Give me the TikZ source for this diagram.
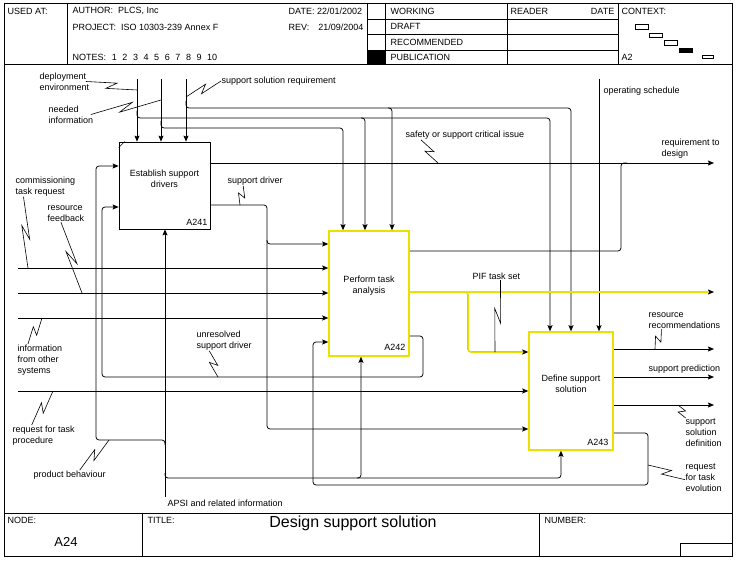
\documentclass[tikz,border=0pt]{standalone}
\usepackage{fontspec}
\setmainfont{Liberation Sans}
\usepackage{tikz}
\usetikzlibrary{arrows.meta,calc}

\definecolor{boxyellow}{RGB}{235,225,0}

% callout squiggle from a label to a line
\newcommand{\zigzag}[2]{\draw[callout] (#1) -- ($(#1)!0.6!(#2)!3.5pt!90:(#2)$) -- ($(#1)!0.4!(#2)!3.5pt!-90:(#2)$) -- (#2);}
\newcommand{\ns}{\hspace{5.6pt}}

\begin{document}
\begin{tikzpicture}[x=1pt,y=-1pt,>={Stealth[length=6pt,width=5pt,inset=1pt]},
  txt/.style={font=\fontsize{9}{11}\selectfont, inner sep=0.5pt, align=left},
  idef box/.style={draw, line width=0.75pt, inner sep=0pt},
  yellow box/.style={idef box, draw=boxyellow, line width=1.5pt},
  flow/.style={->, line width=0.75pt, rounded corners=3pt},
  line/.style={flow, -},
  pif/.style={draw=boxyellow, line width=1.5pt, rounded corners=3pt, shorten >=5pt},
  callout/.style={line width=0.6pt},
  frame/.style={line width=0.9pt}]

  \useasboundingbox (0,0) rectangle (742,567);

  % frame and header
  \draw[frame] (4,3) rectangle (732,556);
  \draw[frame] (4,64) -- (732,64);
  \draw[frame] (4,513) -- (732,513);
  \draw (67,3) -- (67,64);
  \draw (367,3) -- (367,64);
  \draw (385,3) -- (385,64);
  \draw (507,3) -- (507,64);
  \draw (618,3) -- (618,64);
  \foreach \y in {19,34,50} \draw (367,\y) -- (618,\y);
  \fill (367,50) rectangle (385,64);
  \draw (142,513) -- (142,556);
  \draw (539,513) -- (539,556);
  \draw (680,556) |- (732,543);

  \node[txt, anchor=west] (usedat) at (7,11) {USED AT:};
  \node[txt, anchor=west] (author) at (72,11) {AUTHOR:\ \ PLCS, Inc};
  \node[txt, anchor=west] (project) at (72,27) {PROJECT:\ \ ISO 10303-239 Annex F};
  \node[txt, anchor=west] (notes) at (72,57) {NOTES:\ns 1\ns 2\ns 3\ns 4\ns 5\ns 6\ns 7\ns 8\ns 9\ns 10};
  \node[txt, anchor=west] (date) at (288,11) {DATE: 22/01/2002};
  \node[txt, anchor=west] (rev) at (288,27) {REV:\hspace{9pt}21/09/2004};
  \node[txt, anchor=west] (working) at (390,11) {WORKING};
  \node[txt, anchor=west] (draft) at (390,26) {DRAFT};
  \node[txt, anchor=west] (recommended) at (390,42) {RECOMMENDED};
  \node[txt, anchor=west] (publication) at (390,57) {PUBLICATION};
  \node[txt, anchor=west] (reader) at (510,11) {READER};
  \node[txt, anchor=east] (readdate) at (615,11) {DATE};
  \node[txt, anchor=west] (context) at (621,11) {CONTEXT:};
  \node[txt, anchor=west] (ctxnode) at (621,57) {A2};
  \draw (635,24) rectangle (648,29);
  \draw (649,33) rectangle (662,37);
  \draw (664,40) rectangle (677,45);
  \fill (679,48) rectangle (693,53);
  \draw (702,55) rectangle (713,58);

  \node[txt, anchor=west] (nodelbl) at (7,520) {NODE:};
  \node[font=\fontsize{13}{15}\selectfont, inner sep=0pt] (nodeid) at (66,542) {A24};
  \node[txt, anchor=west] (titlelbl) at (147,520) {TITLE:};
  \node[font=\fontsize{16}{19}\selectfont, inner sep=0pt] (title) at (353,523) {Design support solution};
  \node[txt, anchor=west] (numberlbl) at (544,520) {NUMBER:};

  % activity boxes
  \node[idef box, minimum width=91pt, minimum height=87pt] (a241) at (164.5,185.5) {};
  \node[yellow box, minimum width=80pt, minimum height=125pt] (a242) at (369,293.5) {};
  \node[yellow box, minimum width=84pt, minimum height=118pt] (a243) at (571,391) {};
  \draw (a241.north west) ++(0,6) -- ++(6,-6);
  \node[txt, align=center] (t241) at (164.5,178.5) {Establish support\\drivers};
  \node[txt, align=center] (t242) at (369,285.5) {Perform task\\analysis};
  \node[txt, align=center] (t243) at (571,383.5) {Define support\\solution};
  \node[txt, anchor=east] (n241) at (208,222) {A241};
  \node[txt, anchor=east] (n242) at (406,347) {A242};
  \node[txt, anchor=east] (n243) at (609,442) {A243};

  % controls
  \coordinate (cdep) at (137,79);
  \coordinate (cneed) at (161,79);
  \coordinate (cssr) at (186,79);
  \coordinate (cops) at (599,79);
  \draw[flow] (cdep) -- (cdep |- a241.north);
  \draw[flow] (cneed) -- (cneed |- a241.north);
  \draw[flow] (cssr) -- (cssr |- a241.north);
  \draw[flow] (cops) -- (cops |- a243.north);
  \draw[flow] (186,101) |- (571,108) -- (a243.north -| 571,0);
  \draw[flow] (388,108) -| (a242.north -| 392,0);
  \draw[flow] (137,111) |- (550,118) -- (a243.north -| 550,0);
  \draw[flow] (361,118) -| (a242.north -| 365,0);
  \draw[flow] (161,121) |- (343,128) -- (a242.north -| 343,0);

  % outputs and feedback
  \draw[flow] (a241.east |- 0,163) -- (714,163);
  \draw[line] (a242.east |- 0,251) -| (621,163) -- (627,163);
  \draw[flow] (a241.east |- 0,205) -| (267,429) -- (a243.west |- 0,429);
  \draw[flow] (267,240) |- (a242.west |- 0,244);
  \draw[flow] (a242.east |- 0,336) -| (423,377) -| (102,207) -- (a241.west |- 0,207);
  \draw[flow] (a243.east |- 0,433) -| (648,485) -| (313,342) -- (a242.west |- 0,342);
  \foreach \y in {349,377,405} \draw[flow] (a243.east |- 0,\y) -- (714,\y);

  % PIF task set
  \draw[flow] (a242.east |- 0,292) -- (714,292);
  \draw[flow] (464,292) -| (468,352) -- (a243.west |- 0,352);
  \draw[pif] (a242.east |- 0,292) -- (714,292);
  \draw[pif] (464,292) -| (468,352) -- (a243.west |- 0,352);

  % inputs
  \coordinate (icomm) at (18,268);
  \coordinate (ifeed) at (18,293);
  \coordinate (iinfo) at (18,318);
  \coordinate (iproc) at (18,391);
  \draw[flow] (icomm) -- (icomm -| a242.west);
  \draw[flow] (ifeed) -- (ifeed -| a242.west);
  \draw[flow] (iinfo) -- (iinfo -| a242.west);
  \draw[flow] (iproc) -- (iproc -| a243.west);

  % mechanisms
  \coordinate (apsi) at (165,497);
  \draw[flow] (apsi) -- (apsi |- a241.south);
  \draw[flow] (165,445) |- (96,440) |- (a241.west |- 0,166);
  \draw[flow] (165,473) |- (561,478) -- (a243.south -| 561,0);
  \draw[flow] (357,478) -| (a242.south -| 361,0);

  % labels
  \node[txt, anchor=north west] (ldep) at (39,72) {deployment\\environment};
  \node[txt, anchor=north west] (lneed) at (48,105) {needed\\information};
  \node[txt, anchor=west] (lssr) at (221,81) {support solution requirement};
  \node[txt, anchor=west] (lops) at (603,91) {operating schedule};
  \node[txt, anchor=north west] (lcomm) at (15,176) {commissioning\\task request};
  \node[txt, anchor=north west] (lfeed) at (47,205) {resource\\feedback};
  \node[txt, anchor=north west] (linfo) at (17,344) {information\\from other\\systems};
  \node[txt, anchor=north west] (lproc) at (12,425) {request for task\\procedure};
  \node[txt, anchor=west] (lbeh) at (33,475) {product behaviour};
  \node[txt, anchor=west] (ldrv) at (227,181) {support driver};
  \node[txt, anchor=west] (lsafe) at (405,135) {safety or support critical issue};
  \node[txt, anchor=north west] (lunres) at (196,330) {unresolved\\support driver};
  \node[txt, anchor=west] (lpif) at (472,276) {PIF task set};
  \node[txt, anchor=north west] (lreq) at (661,138) {requirement to\\design};
  \node[txt, anchor=north west] (lrec) at (648,312) {resource\\recommendations};
  \node[txt, anchor=west] (lpred) at (648,369) {support prediction};
  \node[txt, anchor=north west] (ldef) at (685,418) {support\\solution\\definition};
  \node[txt, anchor=north west] (levo) at (685,463) {request\\for task\\evolution};
  \node[txt, anchor=west] (lapsi) at (167,503) {APSI and related information};

  % squiggles
  \zigzag{[xshift=-4pt]ldep.east}{137,90}
  \zigzag{[xshift=-3pt]lneed.east}{161,100}
  \zigzag{lssr.west}{186,97}
  \zigzag{[xshift=-22pt]lcomm.south}{28,268}
  \zigzag{[xshift=-5pt]lfeed.south}{82,293}
  \zigzag{[xshift=-12pt]linfo.north}{42,318}
  \zigzag{[xshift=-12pt]lproc.north}{53,391}
  \zigzag{[xshift=10pt]lbeh.north}{109,440}
  \zigzag{[xshift=-12pt]ldrv.south}{240,205}
  \zigzag{[xshift=-44pt]lsafe.south}{438,163}
  \zigzag{[xshift=-15pt]lunres.south}{218,377}
  \zigzag{[xshift=4pt]lpif.south}{495,352}
  \zigzag{[xshift=-23pt]lrec.south}{655,349}
  \zigzag{[xshift=-18pt]ldef.north}{678,405}
  \zigzag{[yshift=-2pt]levo.west}{648,465}
\end{tikzpicture}
\end{document}
